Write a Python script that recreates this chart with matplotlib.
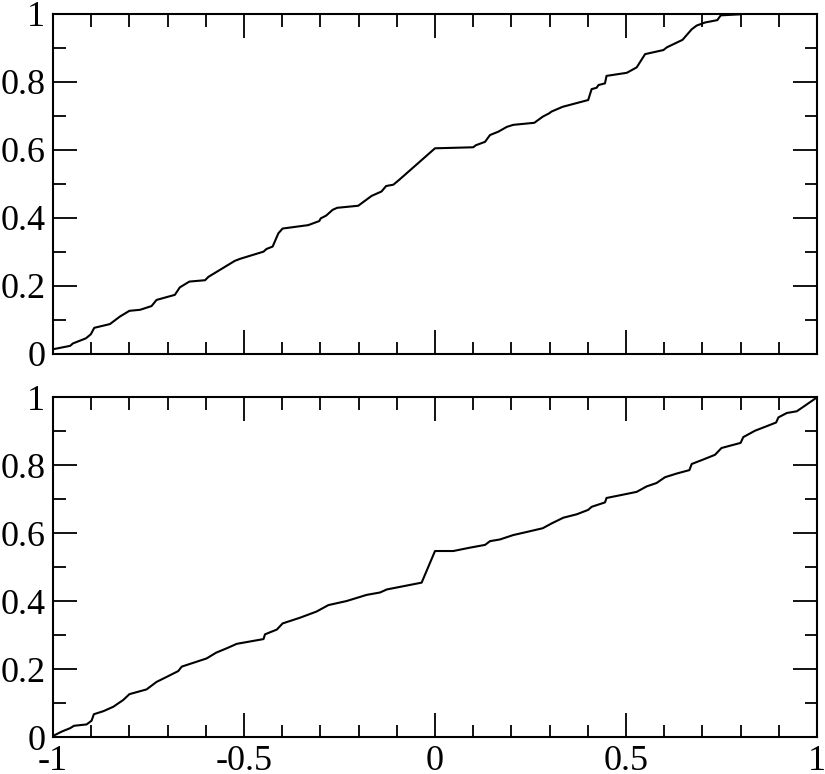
import matplotlib
matplotlib.use("Agg")
import matplotlib.pyplot as plt
from matplotlib.ticker import MultipleLocator, FuncFormatter

top_x = [-1.0, -0.955, -0.948, -0.914, -0.901, -0.892, -0.851, -0.825, -0.80, -0.772,
         -0.742, -0.729, -0.681, -0.668, -0.643, -0.602, -0.593, -0.524, -0.510, -0.449,
         -0.441, -0.425, -0.410, -0.399, -0.332, -0.303, -0.299, -0.285, -0.268, -0.256,
         -0.201, -0.166, -0.140, -0.128, -0.109, -0.094, 0.0, 0.100, 0.107, 0.131,
         0.144, 0.166, 0.188, 0.205, 0.260, 0.282, 0.299, 0.305, 0.334, 0.401,
         0.410, 0.423, 0.428, 0.445, 0.449, 0.502, 0.528, 0.550, 0.598, 0.607,
         0.648, 0.672, 0.685, 0.707, 0.739, 0.748, 0.798]
top_y = [0.014, 0.024, 0.031, 0.046, 0.058, 0.077, 0.088, 0.110, 0.127, 0.130,
         0.141, 0.159, 0.174, 0.196, 0.213, 0.217, 0.227, 0.274, 0.280, 0.301,
         0.309, 0.316, 0.355, 0.369, 0.379, 0.391, 0.399, 0.407, 0.424, 0.430,
         0.436, 0.465, 0.478, 0.494, 0.498, 0.512, 0.605, 0.608, 0.614, 0.624,
         0.644, 0.654, 0.668, 0.674, 0.680, 0.698, 0.708, 0.713, 0.727, 0.747,
         0.779, 0.783, 0.791, 0.796, 0.818, 0.827, 0.843, 0.882, 0.894, 0.902,
         0.924, 0.955, 0.966, 0.975, 0.982, 0.996, 0.999]

bot_x = [-1.0, -0.977, -0.955, -0.945, -0.912, -0.899, -0.893, -0.868, -0.842, -0.816,
         -0.80, -0.755, -0.729, -0.702, -0.672, -0.663, -0.598, -0.573, -0.545, -0.519,
         -0.449, -0.445, -0.414, -0.399, -0.353, -0.310, -0.279, -0.231, -0.179, -0.144,
         -0.126, -0.035, 0.0, 0.048, 0.092, 0.131, 0.144, 0.170, 0.205, 0.240,
         0.282, 0.305, 0.336, 0.371, 0.401, 0.410, 0.445, 0.449, 0.502, 0.528,
         0.554, 0.580, 0.602, 0.633, 0.666, 0.672, 0.702, 0.733, 0.750, 0.800,
         0.807, 0.838, 0.868, 0.893, 0.899, 0.921, 0.947, 0.964, 1.0]
bot_y = [0.003, 0.016, 0.026, 0.033, 0.037, 0.048, 0.067, 0.076, 0.089, 0.109,
         0.126, 0.140, 0.162, 0.177, 0.194, 0.207, 0.231, 0.248, 0.261, 0.274,
         0.288, 0.302, 0.316, 0.334, 0.351, 0.369, 0.388, 0.400, 0.418, 0.425,
         0.434, 0.454, 0.547, 0.547, 0.557, 0.565, 0.576, 0.581, 0.594, 0.603,
         0.614, 0.628, 0.645, 0.655, 0.668, 0.677, 0.690, 0.703, 0.715, 0.721,
         0.737, 0.747, 0.764, 0.775, 0.785, 0.803, 0.816, 0.830, 0.850, 0.865,
         0.882, 0.901, 0.914, 0.925, 0.940, 0.953, 0.958, 0.971, 0.999]

x_ticks = [-1, -0.5, 0, 0.5, 1]
y_ticks = [0, 0.2, 0.4, 0.6, 0.8, 1]

plt.rcParams['font.family'] = ['Liberation Serif', 'DejaVu Serif']
plt.rcParams['font.size'] = 26

fig = plt.figure(figsize=(8.25, 7.74), dpi=100)
L, W = 53/825, (817-53)/825
ax1 = fig.add_axes([L, 1-354/774, W, 340/774])
ax2 = fig.add_axes([L, 1-737/774, W, 340/774])

def fmt(v, pos):
    return '%g' % v

for ax, xs, ys in ((ax1, top_x, top_y), (ax2, bot_x, bot_y)):
    ax.plot(xs, ys, color='black', lw=1.5)
    ax.set_xlim(-1, 1)
    ax.set_ylim(0, 1)
    ax.set_xticks(x_ticks)
    ax.set_yticks(y_ticks)
    ax.xaxis.set_minor_locator(MultipleLocator(0.1))
    ax.yaxis.set_minor_locator(MultipleLocator(0.1))
    ax.xaxis.set_major_formatter(FuncFormatter(fmt))
    ax.yaxis.set_major_formatter(FuncFormatter(fmt))
    ax.tick_params(which='both', direction='in', top=True, right=True, width=1.3, colors='black')
    ax.tick_params(which='major', length=17, pad=5.5)
    ax.tick_params(which='minor', length=9)
    for sp in ax.spines.values():
        sp.set_linewidth(1.5)

ax1.tick_params(axis='x', labelbottom=False)

fig.savefig('out.png', dpi=100)
